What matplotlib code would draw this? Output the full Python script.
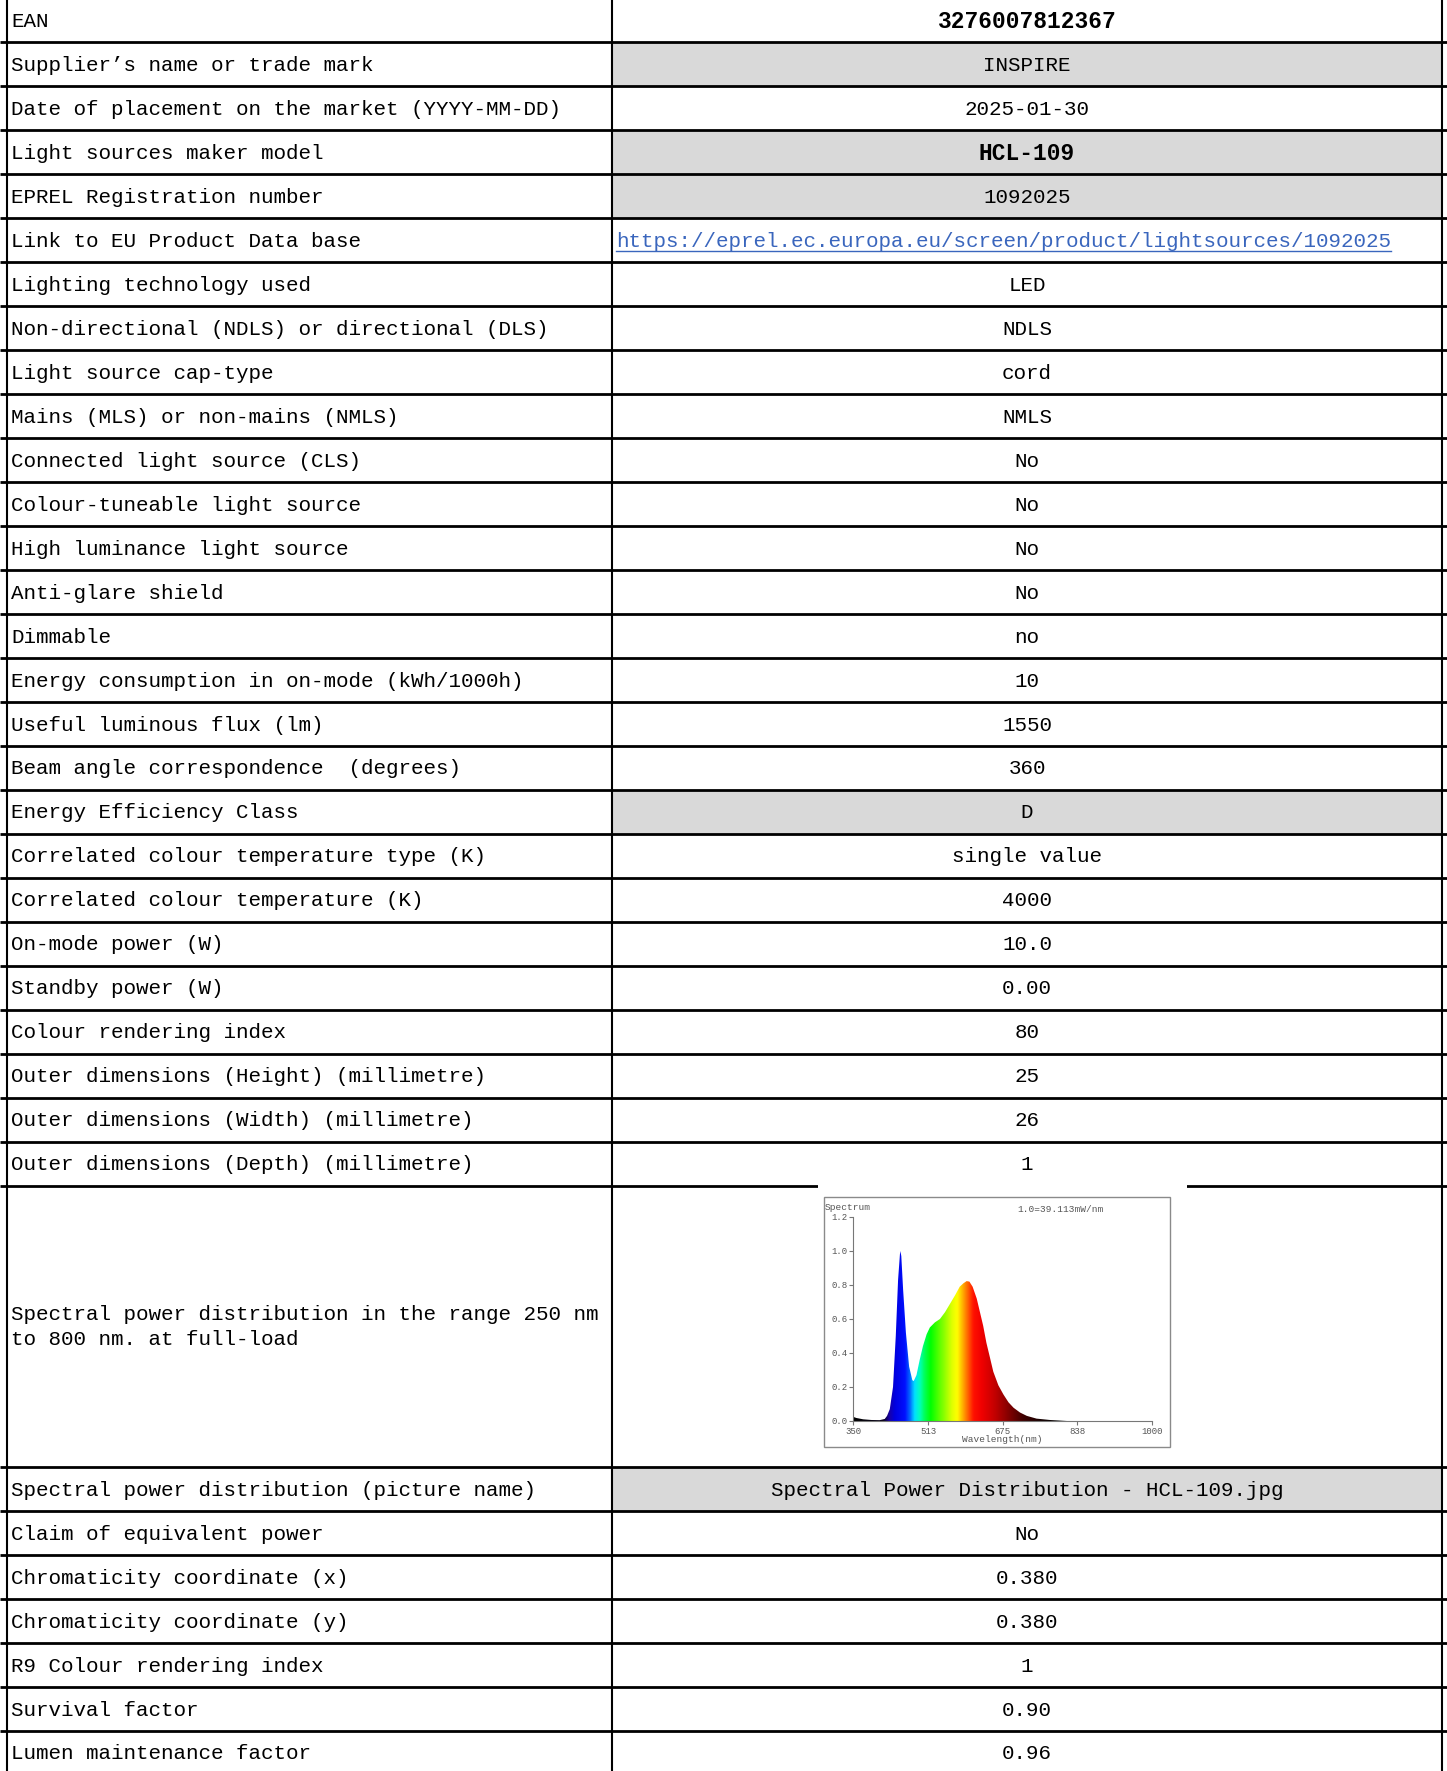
import matplotlib
matplotlib.use("Agg")
import matplotlib.pyplot as plt
import matplotlib.patches as mpatches
from matplotlib.colors import LinearSegmentedColormap
import numpy as np

# Table content
labels = [
    "EAN",
    "Supplier’s name or trade mark",
    "Date of placement on the market (YYYY-MM-DD)",
    "Light sources maker model",
    "EPREL Registration number",
    "Link to EU Product Data base",
    "Lighting technology used",
    "Non-directional (NDLS) or directional (DLS)",
    "Light source cap-type",
    "Mains (MLS) or non-mains (NMLS)",
    "Connected light source (CLS)",
    "Colour-tuneable light source",
    "High luminance light source",
    "Anti-glare shield",
    "Dimmable",
    "Energy consumption in on-mode (kWh/1000h)",
    "Useful luminous flux (lm)",
    "Beam angle correspondence  (degrees)",
    "Energy Efficiency Class",
    "Correlated colour temperature type (K)",
    "Correlated colour temperature (K)",
    "On-mode power (W)",
    "Standby power (W)",
    "Colour rendering index",
    "Outer dimensions (Height) (millimetre)",
    "Outer dimensions (Width) (millimetre)",
    "Outer dimensions (Depth) (millimetre)",
    "Spectral power distribution in the range 250 nm\nto 800 nm. at full-load",
    "Spectral power distribution (picture name)",
    "Claim of equivalent power",
    "Chromaticity coordinate (x)",
    "Chromaticity coordinate (y)",
    "R9 Colour rendering index",
    "Survival factor",
    "Lumen maintenance factor",
]
values = [
    "3276007812367", "INSPIRE", "2025-01-30", "HCL-109", "1092025",
    "https://eprel.ec.europa.eu/screen/product/lightsources/1092025",
    "LED", "NDLS", "cord", "NMLS", "No", "No", "No", "No", "no",
    "10", "1550", "360", "D", "single value", "4000", "10.0", "0.00",
    "80", "25", "26", "1", "",
    "Spectral Power Distribution - HCL-109.jpg",
    "No", "0.380", "0.380", "1", "0.90", "0.96",
]
shaded_rows = ["Supplier’s name or trade mark", "Light sources maker model",
               "EPREL Registration number", "Energy Efficiency Class",
               "Spectral power distribution (picture name)"]
bold_rows = ["EAN", "Light sources maker model"]
link_row = "Link to EU Product Data base"
spd_row = labels[27]

# Spectrum (relative units)
spec_wl = [350, 357, 372, 390, 408, 419, 424, 430, 437, 443, 448, 452, 453,
           455, 459, 465, 472, 479, 482, 488, 495, 502, 510, 517, 528, 539,
           550, 561, 572, 582, 590, 597, 603, 610, 619, 626, 633, 640, 648,
           655, 666, 677, 688, 699, 713, 728, 749, 778, 815, 850, 1000]
spec_val = [0.025, 0.018, 0.010, 0.006, 0.005, 0.012, 0.030, 0.07, 0.20,
            0.50, 0.83, 0.98, 1.00, 0.97, 0.77, 0.52, 0.32, 0.24, 0.235,
            0.27, 0.36, 0.44, 0.51, 0.55, 0.58, 0.60, 0.64, 0.69, 0.74,
            0.79, 0.81, 0.823, 0.82, 0.79, 0.72, 0.64, 0.56, 0.46, 0.37,
            0.29, 0.21, 0.156, 0.11, 0.078, 0.05, 0.03, 0.014, 0.006, 0.0,
            0.0, 0.0]
x_ticks = [350, 513, 675, 838, 1000]
y_ticks = [0.0, 0.2, 0.4, 0.6, 0.8, 1.0, 1.2]

W, H = 1447, 1771
FONT = "Liberation Mono"
X_LEFT, X_MID, X_RIGHT = 7, 612, 1442
ROW_H = 43.97
SPD_H = 281.5

fig = plt.figure(figsize=(W / 100, H / 100), dpi=100)
ax = fig.add_axes([0, 0, 1, 1])
ax.set_xlim(0, W)
ax.set_ylim(H, 0)
ax.axis("off")

# Row positions
tops = []
y = -1.5
for lab in labels:
    tops.append(y)
    y += SPD_H if lab == spd_row else ROW_H
bottoms = tops[1:] + [y]

link_text = None
for lab, val, top, bot in zip(labels, values, tops, bottoms):
    cy = (top + bot) / 2 + 1
    if lab in shaded_rows:
        ax.add_patch(mpatches.Rectangle((X_MID, top), X_RIGHT - X_MID, bot - top,
                                        facecolor="#d9d9d9", edgecolor="none", zorder=0))
    ax.text(11, cy, lab, ha="left", va="center", fontsize=15, family=FONT,
            linespacing=1.4, color="black")
    if lab == link_row:
        link_text = ax.text(616, cy, val, ha="left", va="center", fontsize=15,
                            family=FONT, color="#3a66bd")
        link_cy = cy
    elif val:
        ax.text((X_MID + X_RIGHT) / 2, cy, val, ha="center", va="center",
                fontsize=16.5 if lab in bold_rows else 15,
                fontweight="bold" if lab in bold_rows else "normal",
                family=FONT, color="black")
    ax.plot([0, W], [bot, bot], color="black", lw=2.0, zorder=2,
            solid_capstyle="butt")

for xv in [X_LEFT, X_MID, X_RIGHT]:
    ax.plot([xv, xv], [0, H], color="black", lw=1.5, zorder=2)

# Underline for the hyperlink
fig.canvas.draw()
bb = link_text.get_window_extent()
ax.plot([bb.x0, bb.x1], [link_cy + 10, link_cy + 10], color="#3a66bd", lw=1.0)

# Embedded spectrum picture: white background and grey frame
spd_top = tops[27]
ax.add_patch(mpatches.Rectangle((818, spd_top - 2), 369, 266, facecolor="white",
                                edgecolor="none", zorder=3))
ax.add_patch(mpatches.Rectangle((824, 1197), 346, 250, facecolor="none",
                                edgecolor="#8a8a8a", lw=1.0, zorder=4))
small = dict(family=FONT, color="#555555", zorder=5)
ax.text(825, 1207, "Spectrum", ha="left", va="center", fontsize=6.8, **small)
ax.text(1060, 1210, "1.0=39.113mW/nm", ha="center", va="center", fontsize=6.8, **small)
ax.text(1002, 1439, "Wavelength(nm)", ha="center", va="center", fontsize=6.8, **small)

sx0, sx1, sy_top, sy_bot = 853, 1152, 1217, 1421
sax = fig.add_axes([sx0 / W, 1 - sy_bot / H, (sx1 - sx0) / W, (sy_bot - sy_top) / H],
                   zorder=6)
sax.patch.set_alpha(0)

stops = [(350, "#000000"), (415, "#08001a"), (428, "#1800a8"), (440, "#0000e0"),
         (462, "#0010ff"), (474, "#0070ff"), (483, "#00e0ff"), (494, "#00ffc0"),
         (504, "#00ff60"), (518, "#00ff00"), (545, "#80ff00"), (565, "#e0ff00"),
         (576, "#ffff00"), (588, "#ffb000"), (600, "#ff6000"), (612, "#ff1000"),
         (630, "#f00000"), (660, "#c00000"), (690, "#800000"), (720, "#400000"),
         (760, "#150000"), (800, "#000000"), (1000, "#000000")]
cmap = LinearSegmentedColormap.from_list(
    "spec", [((w - 350) / 650, c) for w, c in stops])

grad = np.linspace(350, 1000, 1301)[np.newaxis, :]
im = sax.imshow(grad, extent=[350, 1000, 0, 1.2], aspect="auto", cmap=cmap,
                vmin=350, vmax=1000, interpolation="bilinear")
poly = mpatches.Polygon(list(zip(spec_wl, spec_val)) + [(1000, 0), (350, 0)],
                        closed=True, facecolor="none", edgecolor="none")
sax.add_patch(poly)
im.set_clip_path(poly)

sax.set_xlim(350, 1000)
sax.set_ylim(0, 1.2)
sax.set_xticks(x_ticks)
sax.set_xticklabels([str(t) for t in x_ticks])
sax.set_yticks(y_ticks)
sax.set_yticklabels([f"{t:.1f}" for t in y_ticks])
for lbl in sax.get_xticklabels() + sax.get_yticklabels():
    lbl.set_family(FONT)
    lbl.set_fontsize(6.5)
    lbl.set_color("#555555")
sax.tick_params(length=3, width=0.8, color="#777777", pad=1)
for side in ["top", "right"]:
    sax.spines[side].set_visible(False)
for side in ["left", "bottom"]:
    sax.spines[side].set_color("#777777")
    sax.spines[side].set_linewidth(0.8)

plt.savefig("out.png", dpi=100)
